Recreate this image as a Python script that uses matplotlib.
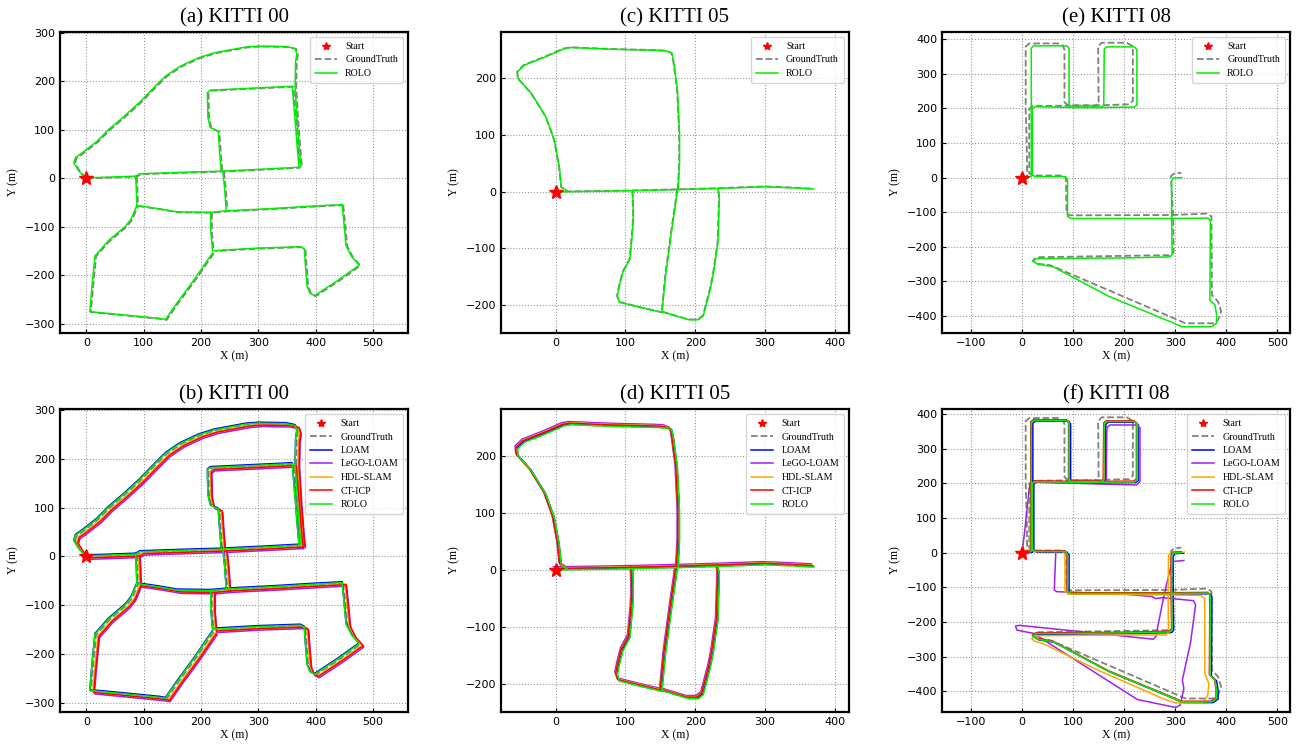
import matplotlib.pyplot as plt

SERIF = 'Liberation Serif'

# ---------------- KITTI 00 ground truth (road pieces, metres) ----------------
gt00_curve = [(0, 0), (-11, 14), (-20, 31), (-17, 42), (-5, 52), (20, 75), (41, 100),
              (65, 124), (94, 155), (117, 183), (140, 210), (165, 230), (198, 248),
              (225, 258), (257, 265), (280, 270), (303, 272), (350, 271), (366, 267),
              (369, 256), (367, 240), (366, 189), (370, 110), (374, 50), (376, 24)]
gt00_bottom = [(0, 0), (40, 1.5), (88, 3.5), (95, 8.5), (170, 11.5), (240, 14),
               (310, 18), (373, 22)]
gt00_inner = [(237, 16), (234, 60), (232, 96), (218, 104), (214, 125), (213, 176),
              (218, 181), (290, 185), (361, 189), (366, 120), (370, 60), (373, 22)]
gt00_mid = [(240, 14), (243, -20), (246, -68)]
gt00_left = [(88, 3.5), (89, -20), (90, -55)]
gt00_cross = [(90, -57), (125, -63), (160, -70), (219, -71), (246, -68), (330, -63),
              (400, -58), (448, -55)]
gt00_right = [(448, -55), (451, -90), (455, -140), (465, -163), (478, -180), (440, -212),
              (400, -243), (392, -238), (387, -223), (384, -180), (382, -146),
              (375, -142), (300, -145), (225, -150)]
gt00_j = [(219, -71), (219, -110), (222, -150)]
gt00_low = [(222, -155), (190, -210), (160, -258), (140, -292), (130, -290), (70, -283),
            (8, -276), (12, -220), (17, -161), (40, -130), (70, -100), (80, -85),
            (90, -57)]
GT00 = [gt00_curve, gt00_bottom, gt00_inner, gt00_mid, gt00_left, gt00_cross,
        gt00_right, gt00_j, gt00_low]

# ---------------- KITTI 05 ground truth ----------------
gt05_road = [(0, 0), (60, 1), (108, 2), (175, 4), (232, 6), (299, 9), (340, 7), (369, 5)]
gt05_loop = [(175, 4), (177, 50), (177, 103), (174, 180), (168, 235), (166, 245),
             (158, 249), (146, 250), (80, 252), (22, 255), (12, 253), (-16, 238),
             (-45, 224), (-55, 212), (-54, 200), (-35, 174), (-14, 132), (-2, 91),
             (5, 44), (8, 8), (16, 2)]
gt05_left = [(110, 2), (111, -40), (110, -66), (106, -119), (96, -142), (91, -166),
             (88, -184), (91, -195), (120, -204), (151, -213)]
gt05_mid = [(174, 4), (172, -15), (166, -66), (157, -148), (152, -212)]
gt05_right = [(152, -212), (190, -226), (204, -226), (211, -219), (221, -172),
              (225, -148), (232, -89), (234, -7), (232, 5)]
GT05 = [gt05_road, gt05_loop, gt05_left, gt05_mid, gt05_right]

# ---------------- KITTI 08 ground truth and estimates ----------------
gt08 = [(0, 0), (10, 5), (9, 100), (7, 200), (7, 379), (14, 388), (70, 388), (80, 382),
        (83, 370), (83, 218), (90, 209), (145, 208), (150, 215), (149, 379), (156, 390),
        (205, 390), (217, 380), (217, 222), (210, 212), (150, 209), (90, 208), (20, 207),
        (14, 198), (14, 100), (14, 12), (22, 6), (80, 6), (86, 0), (87, -103), (93, -109),
        (290, -108), (362, -104), (371, -112), (372, -339), (384, -358), (390, -387),
        (384, -411), (378, -421), (320, -421), (300, -408), (180, -332), (55, -253),
        (30, -249), (21, -240), (28, -230), (200, -226), (288, -224), (297, -216),
        (296, -110), (292, -10), (292, 5), (298, 12), (312, 14)]
rolo08 = [(0, 0), (18, 3), (18, 100), (18, 200), (18, 375), (23, 381), (88, 381), (92, 373),
          (92, 210), (97, 203), (155, 203), (160, 210), (161, 372), (166, 378), (220, 378),
          (225, 370), (225, 210), (220, 204), (160, 203), (97, 203), (25, 205), (20, 200),
          (20, 100), (20, 8), (26, 3), (85, 3), (89, -5), (89, -112), (95, -118),
          (290, -118), (365, -117), (369, -125), (368, -354), (378, -368), (381, -395),
          (381, -421), (371, -431), (313, -431), (293, -418), (170, -343), (60, -257),
          (30, -250), (21, -241), (27, -234), (200, -232), (290, -229), (294, -222),
          (293, -120), (293, -10), (296, -1), (313, 0)]
hdl08 = [(0, 0), (16, 3), (16, 100), (17, 200), (18, 376), (23, 382), (88, 382), (92, 374),
         (92, 210), (97, 204), (155, 204), (160, 211), (161, 372), (166, 379), (220, 379),
         (226, 371), (226, 210), (220, 204), (160, 203), (25, 205), (19, 200), (18, 100),
         (18, 8), (24, 3), (80, 3), (84, -5), (84, -113), (90, -120), (280, -122),
         (350, -124), (358, -132), (358, -349), (366, -378), (364, -411), (356, -431),
         (301, -434), (280, -424), (150, -340), (40, -262), (24, -256), (19, -248),
         (27, -240), (200, -238), (282, -238), (287, -230), (286, -120), (287, -8),
         (292, 0), (318, 1)]
lego08 = [(0, 0), (5, 60), (10, 130), (15, 195), (18, 210), (18, 375), (23, 381), (88, 381),
          (92, 373), (92, 212), (97, 204), (160, 203), (165, 210), (166, 360), (172, 368),
          (225, 368), (231, 360), (231, 205), (225, 195), (165, 197), (97, 200), (25, 203),
          (20, 198), (20, 100), (20, 8), (26, 3), (62, 4), (66, 0), (63, -108), (68, -113),
          (200, -120), (255, -127), (262, -133), (275, -130), (336, -139), (340, -151),
          (330, -260), (314, -368), (317, -392), (310, -440), (301, -447), (226, -424),
          (22, -233), (-10, -224), (-13, -212), (-5, -210), (257, -250), (262, -243),
          (275, -146), (285, -79), (294, -26), (317, -23)]

LOAM_SHIFT = {'00': (-2, 3), '05': (0, 1), '08': (3, -2)}
LEGO_SHIFT = {'00': (6, -6), '05': (-3, 5)}
HDL_SHIFT = {'00': (3, -2), '05': (-2, 3)}
CTICP_SHIFT = {'00': (5, -3), '05': (-2, 2), '08': (-1, 2)}
ROLO_SHIFT = {'00': (-2, 1), '05': (0.5, -0.5)}

COLORS = {'LOAM': '#0000ff', 'LeGO-LOAM': '#a020f0', 'HDL-SLAM': '#ffa500',
          'CT-ICP': '#ff0000', 'ROLO': '#00ee00'}


def shifted(pieces, d):
    return [[(x + d[0], y + d[1]) for x, y in p] for p in pieces]


def draw(ax, gt, runs, title, xlim, ylim, xticks, yticks):
    ax.plot(0, 0, '*', color='red', ms=10, zorder=10, label='Start')
    for i, p in enumerate(gt):
        xs, ys = zip(*p)
        ax.plot(xs, ys, '--', color='#808080', lw=1.3, label='GroundTruth' if i == 0 else None)
    for name, pieces in runs:
        for i, p in enumerate(pieces):
            xs, ys = zip(*p)
            ax.plot(xs, ys, '-', color=COLORS[name], lw=1.1, label=name if i == 0 else None)
    ax.set_xlim(*xlim)
    ax.set_ylim(*ylim)
    ax.set_xticks(xticks)
    ax.set_yticks(yticks)
    ax.grid(True, linestyle=':', color='#999999', lw=0.8)
    ax.tick_params(direction='in', length=3, labelsize=8)
    for s in ax.spines.values():
        s.set_linewidth(1.6)
    ax.set_title(title, fontsize=15, family=SERIF, pad=7)
    ax.set_xlabel('X (m)', fontsize=8.5, family=SERIF, labelpad=2)
    ax.set_ylabel('Y (m)', fontsize=8.5, family=SERIF, labelpad=4)
    ax.legend(loc='upper right', prop={'family': SERIF, 'size': 7.2}, markerscale=0.6,
              handlelength=2.2, labelspacing=0.45, borderpad=0.5)


fig = plt.figure(figsize=(13.04, 7.47), dpi=100)
W, H = 1304, 747
lefts = [60, 501, 942]
axw, axh = 348, 301
top_ax = [fig.add_axes([l / W, (H - 333) / H, axw / W, axh / H]) for l in lefts]
bot_ax = [fig.add_axes([l / W, (H - 712) / H, axw / W, 303 / H]) for l in lefts]

lim00 = dict(xlim=(-46, 561), ylim=(-319, 302), xticks=range(0, 501, 100), yticks=range(-300, 301, 100))
lim05 = dict(xlim=(-78, 420), ylim=(-250, 282), xticks=range(0, 401, 100), yticks=range(-200, 201, 100))
lim08 = dict(xlim=(-157, 525), ylim=(-449, 421), xticks=range(-100, 501, 100), yticks=range(-400, 401, 100))
lim08b = dict(lim08, ylim=(-460, 414))

draw(top_ax[0], GT00, [('ROLO', shifted(GT00, ROLO_SHIFT['00']))], '(a) KITTI 00', **lim00)
draw(top_ax[1], GT05, [('ROLO', shifted(GT05, ROLO_SHIFT['05']))], '(c) KITTI 05', **lim05)
draw(top_ax[2], [gt08], [('ROLO', [rolo08])], '(e) KITTI 08', **lim08)

runs00 = [('LOAM', shifted(GT00, LOAM_SHIFT['00'])), ('LeGO-LOAM', shifted(GT00, LEGO_SHIFT['00'])),
          ('HDL-SLAM', shifted(GT00, HDL_SHIFT['00'])), ('CT-ICP', shifted(GT00, CTICP_SHIFT['00'])),
          ('ROLO', shifted(GT00, ROLO_SHIFT['00']))]
runs05 = [('LOAM', shifted(GT05, LOAM_SHIFT['05'])), ('LeGO-LOAM', shifted(GT05, LEGO_SHIFT['05'])),
          ('HDL-SLAM', shifted(GT05, HDL_SHIFT['05'])), ('CT-ICP', shifted(GT05, CTICP_SHIFT['05'])),
          ('ROLO', shifted(GT05, ROLO_SHIFT['05']))]
runs08 = [('LOAM', shifted([rolo08], LOAM_SHIFT['08'])), ('LeGO-LOAM', [lego08]),
          ('HDL-SLAM', [hdl08]), ('CT-ICP', shifted([rolo08], CTICP_SHIFT['08'])),
          ('ROLO', [rolo08])]

draw(bot_ax[0], GT00, runs00, '(b) KITTI 00', **lim00)
draw(bot_ax[1], GT05, runs05, '(d) KITTI 05', **lim05)
draw(bot_ax[2], [gt08], runs08, '(f) KITTI 08', **lim08b)

fig.savefig('out.png', dpi=100)
